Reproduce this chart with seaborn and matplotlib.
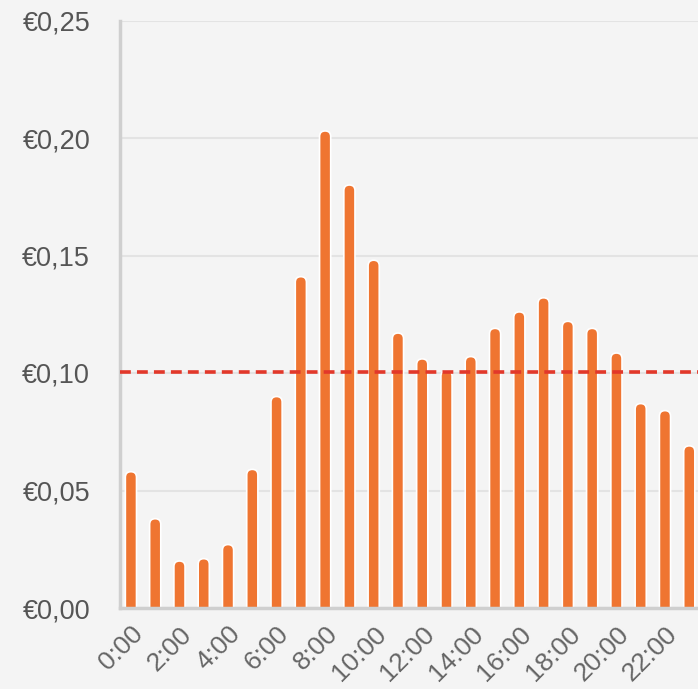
import matplotlib
matplotlib.use("Agg")
import matplotlib.pyplot as plt
import matplotlib.transforms as mtransforms
import seaborn as sns
import pandas as pd
from matplotlib.patches import FancyBboxPatch

hours = list(range(24))
prices = [0.058, 0.038, 0.020, 0.021, 0.027, 0.059, 0.090, 0.141, 0.203, 0.180,
          0.148, 0.117, 0.106, 0.101, 0.107, 0.119, 0.126, 0.132, 0.122, 0.119,
          0.1085, 0.087, 0.084, 0.069]
hour_labels = [f"{h}:00" for h in hours]
average_price = 0.1005
y_ticks = [0.0, 0.05, 0.10, 0.15, 0.20, 0.25]
y_tick_labels = ["€0,00", "€0,05", "€0,10", "€0,15", "€0,20", "€0,25"]

df = pd.DataFrame({"hour": hour_labels, "price": prices})

sns.set_style("white")
plt.rcParams["font.family"] = ["Liberation Sans", "DejaVu Sans"]

bg = "#f4f4f4"
bar_color = "#ef7531"
fig = plt.figure(figsize=(6.98, 6.89), dpi=100, facecolor=bg)
ax = fig.add_axes([120 / 698, (689 - 608) / 689, 1 - 120 / 698, (608 - 20.5) / 689])
ax.set_facecolor(bg)

sns.barplot(data=df, x="hour", y="price", color=bar_color, saturation=1,
            width=0.46, ax=ax, zorder=3)

# rounded tops: replace rectangles with rounded boxes of the same geometry
x_px_per_unit = (698 - 120) / 23.81
y_px_per_unit = (608 - 20.5) / 0.25
aspect = x_px_per_unit / y_px_per_unit
new_patches = []
for p in list(ax.patches):
    x0, y0 = p.get_x(), p.get_y()
    w, h = p.get_width(), p.get_height()
    fb = FancyBboxPatch((x0, y0 - 0.01), w, h + 0.01,
                        boxstyle=f"round,pad=0,rounding_size={w / 2}",
                        mutation_aspect=aspect,
                        facecolor=bar_color, edgecolor="white", linewidth=1.2,
                        zorder=3)
    p.remove()
    new_patches.append(fb)
for fb in new_patches:
    ax.add_patch(fb)

ax.axhline(average_price, color="#e2382a", linestyle=(0, (3.0, 1.7)),
           linewidth=2.6, zorder=4)

ax.set_xlim(-0.45, 23.36)
ax.set_ylim(0, 0.25)
ax.set_yticks(y_ticks)
ax.set_yticklabels(y_tick_labels)
ax.set_xticks(hours[::2])
ax.set_xticklabels(hour_labels[::2], rotation=45, ha="right", rotation_mode="anchor")

offset = mtransforms.ScaledTranslation(2 / 100, 0, fig.dpi_scale_trans)
for lab in ax.get_xticklabels():
    lab.set_transform(lab.get_transform() + offset)

ax.grid(axis="y", color="#e3e3e3", linewidth=1.5, zorder=0)
ax.set_axisbelow(True)
ax.set_xlabel("")
ax.set_ylabel("")

for s in ["top", "right"]:
    ax.spines[s].set_visible(False)
ax.spines["left"].set_color("#cfcfcf")
ax.spines["left"].set_linewidth(2.5)
ax.spines["bottom"].set_color("#cfcfcf")
ax.spines["bottom"].set_linewidth(2.5)
ax.spines["bottom"].set_zorder(5)

ax.tick_params(axis="y", length=0, labelsize=19.5, labelcolor="#555555", pad=21.5)
ax.tick_params(axis="x", length=12.5, width=1.2, color="#ccd6eb", labelsize=19,
               labelcolor="#666666", pad=-2.5)

fig.savefig("out.png", dpi=100, facecolor=bg)
